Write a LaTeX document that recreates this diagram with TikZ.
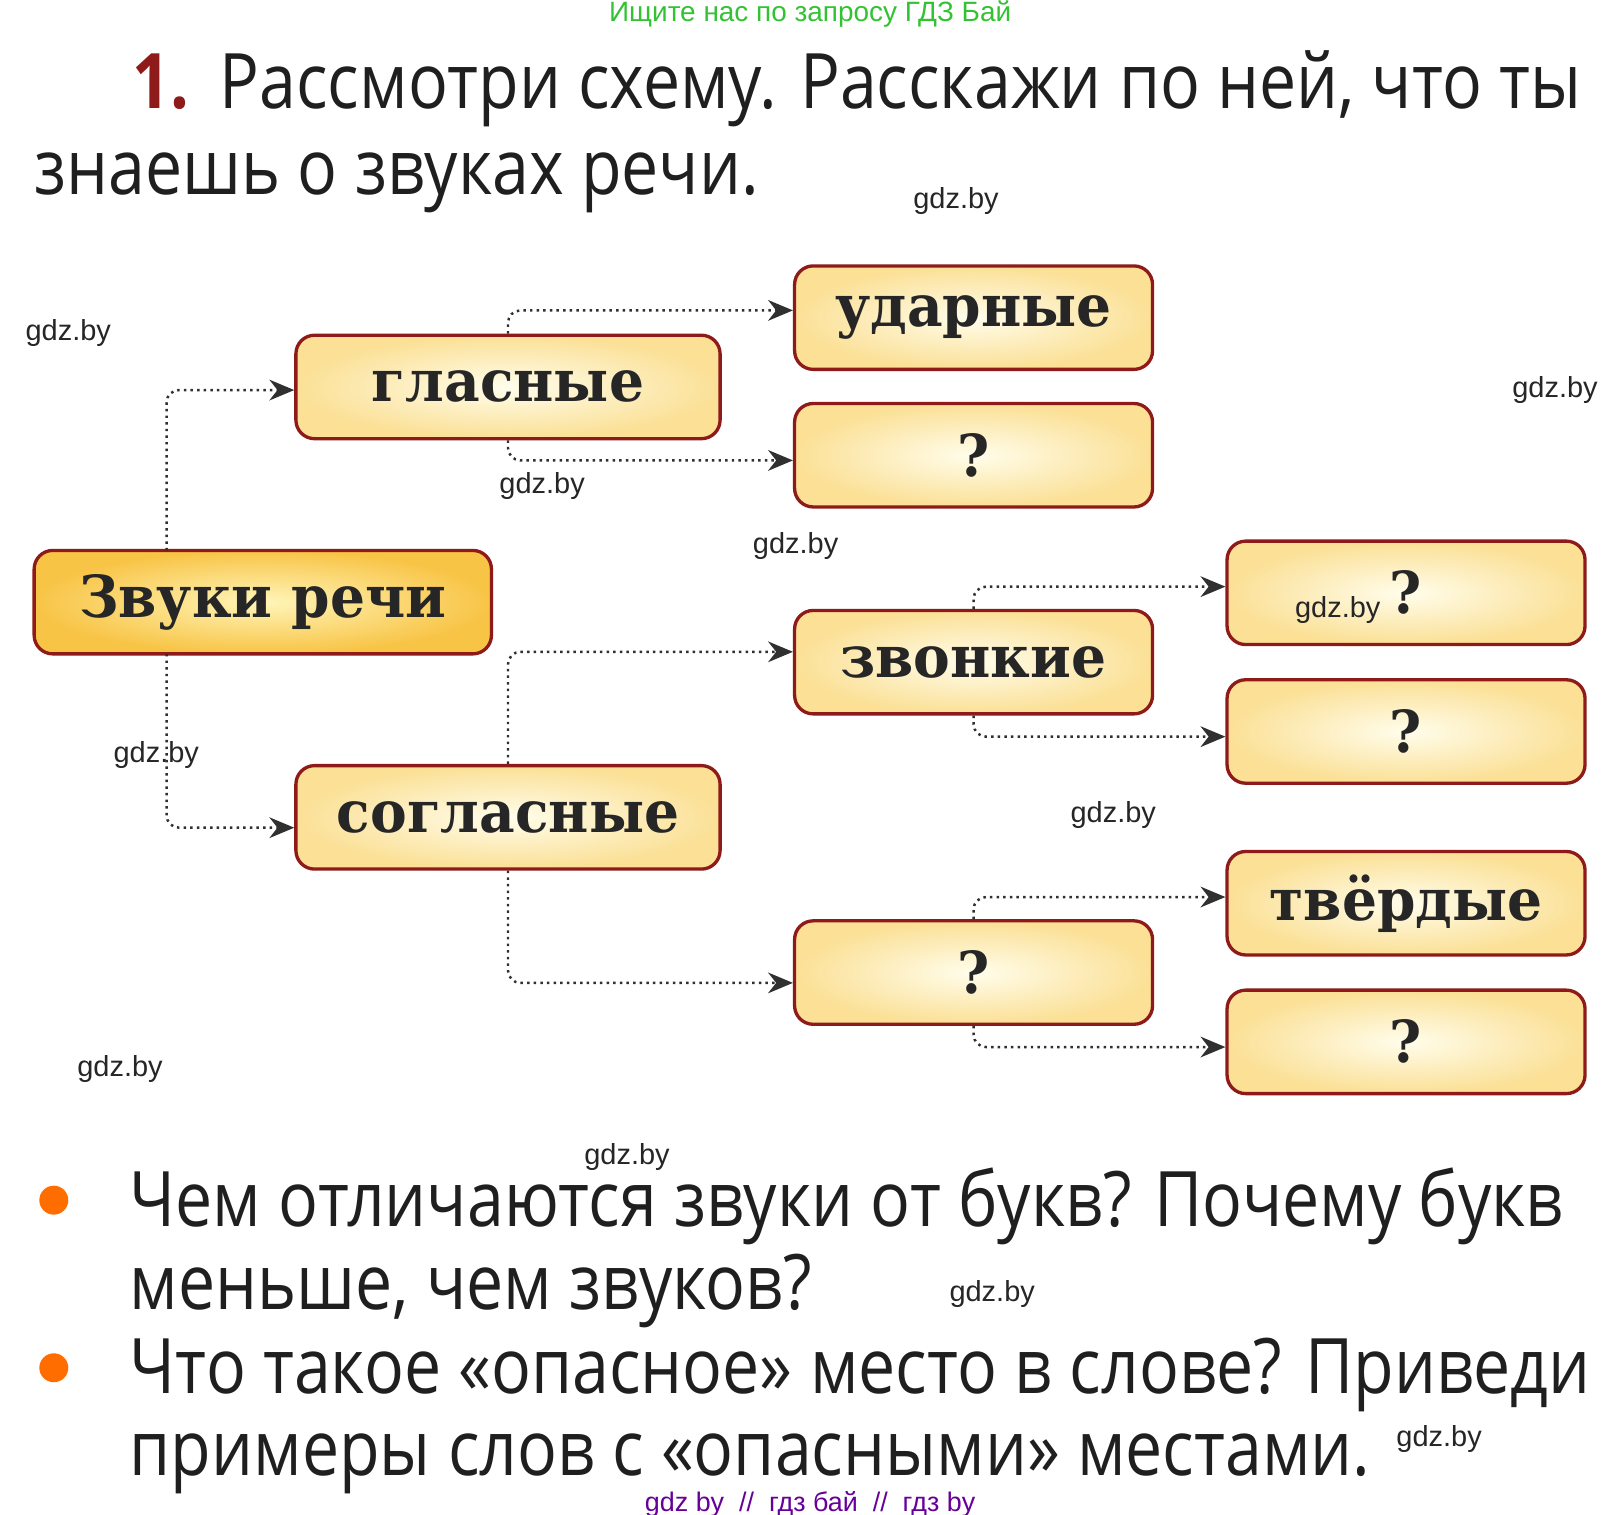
\documentclass[tikz,border=0pt]{standalone}
\usepackage{fontspec}
\setmainfont{Open Sans}[FakeStretch=0.865]
\newfontfamily\boxfont{DejaVu Serif}[FakeStretch=0.95]
\newfontfamily\wmfont{Liberation Sans}
\usetikzlibrary{arrows.meta}
\definecolor{bord}{HTML}{8E1A1A}
\definecolor{arr}{HTML}{303030}
\definecolor{bin}{RGB}{255,253,235}
\definecolor{bout}{RGB}{251,224,150}
\definecolor{zin}{RGB}{255,245,185}
\definecolor{zout}{RGB}{248,196,70}
\begin{document}
\begin{tikzpicture}[x=0.5pt,y=-0.5pt,
  bx/.style={draw=bord,line width=1.6pt,rounded corners=9pt,inner color=bin,outer color=bout,font=\boxfont\fontsize{28}{30}\selectfont\bfseries,minimum height=50pt,text=black!85},
  bx2/.style={bx,inner color=zin,outer color=zout},
  con/.style={draw=arr,line width=1.2pt,dotted,rounded corners=6pt,-{Stealth[length=12pt,width=10pt,fill=arr]}},
  wm/.style={font=\wmfont\fontsize{14}{14}\selectfont,text=black!85,inner sep=0pt},
  txt/.style={anchor=base west,inner sep=0pt,font=\fontsize{37}{40}\selectfont,text=black!88}]
\useasboundingbox (0,0) rectangle (1560,1464);
% header
\node[font=\wmfont\fontsize{13.5}{14}\selectfont,text=green!70!black!80,inner sep=0pt] (top) at (783,14) {Ищите нас по запросу ГДЗ Бай};
\node[txt,text=bord,font=\fontsize{37}{40}\selectfont\bfseries] (num) at (128,105) {1.};
\node[txt] (h1) at (212,105) {Рассмотри схему. Расскажи по ней, что ты};
\node[txt] (h2) at (33,188) {знаешь о звуках речи.};
% boxes
\node[bx2,minimum width=221pt] (zr) at (254,582) {Звуки речи};
\node[bx,minimum width=205pt] (gl) at (491,374) {гласные};
\node[bx,minimum width=205pt] (sg) at (491,790) {согласные};
\node[bx,minimum width=173pt] (ud) at (941,307) {ударные};
\node[bx,minimum width=173pt] (q1) at (941,440) {?};
\node[bx,minimum width=173pt] (zv) at (941,640) {звонкие};
\node[bx,minimum width=173pt] (q2) at (941,940) {?};
\node[bx,minimum width=173pt] (q3) at (1359,573) {?};
\node[bx,minimum width=173pt] (q4) at (1359,707) {?};
\node[bx,minimum width=173pt] (tv) at (1359,873) {твёрдые};
\node[bx,minimum width=173pt] (q5) at (1359,1007) {?};
% connectors
\coordinate (a1) at (161,532); \coordinate (a2) at (161,632);
\draw[con] (a1) |- (gl.west |- 0,377);
\draw[con] (a2) |- (sg.west |- 0,800);
\draw[con] (gl.north) |- (ud.west |- 0,300);
\draw[con] (gl.south) |- (q1.west |- 0,445);
\draw[con] (sg.north) |- (zv.west |- 0,630);
\draw[con] (sg.south) |- (q2.west |- 0,950);
\draw[con] (zv.north) |- (q3.west |- 0,567);
\draw[con] (zv.south) |- (q4.west |- 0,712);
\draw[con] (q2.north) |- (tv.west |- 0,867);
\draw[con] (q2.south) |- (q5.west |- 0,1012);
% bullets
\fill[orange!85!red] (52,1160) circle (7pt);
\fill[orange!85!red] (52,1322) circle (7pt);
\node[txt] (b1) at (125,1185) {Чем отличаются звуки от букв? Почему букв};
\node[txt] (b2) at (125,1266) {меньше, чем звуков?};
\node[txt] (b3) at (125,1347) {Что такое «опасное» место в слове? Приведи};
\node[txt] (b4) at (125,1426) {примеры слов с «опасными» местами.};
% watermarks
\node[wm] (w1) at (924,194) {gdz.by};
\node[wm] (w2) at (66,322) {gdz.by};
\node[wm] (w3) at (1503,377) {gdz.by};
\node[wm] (w4) at (524,470) {gdz.by};
\node[wm] (w5) at (769,528) {gdz.by};
\node[wm] (w6) at (1293,590) {gdz.by};
\node[wm] (w7) at (151,730) {gdz.by};
\node[wm] (w8) at (1076,788) {gdz.by};
\node[wm] (w9) at (116,1033) {gdz.by};
\node[wm] (w10) at (606,1118) {gdz.by};
\node[wm] (w11) at (959,1251) {gdz.by};
\node[wm] (w12) at (1391,1391) {gdz.by};
\node[font=\wmfont\fontsize{13}{14}\selectfont,text=violet!80!blue,inner sep=0pt] (bot) at (783,1454) {gdz by \ //\ \ гдз бай \ //\ \ гдз by};
\end{tikzpicture}
\end{document}
